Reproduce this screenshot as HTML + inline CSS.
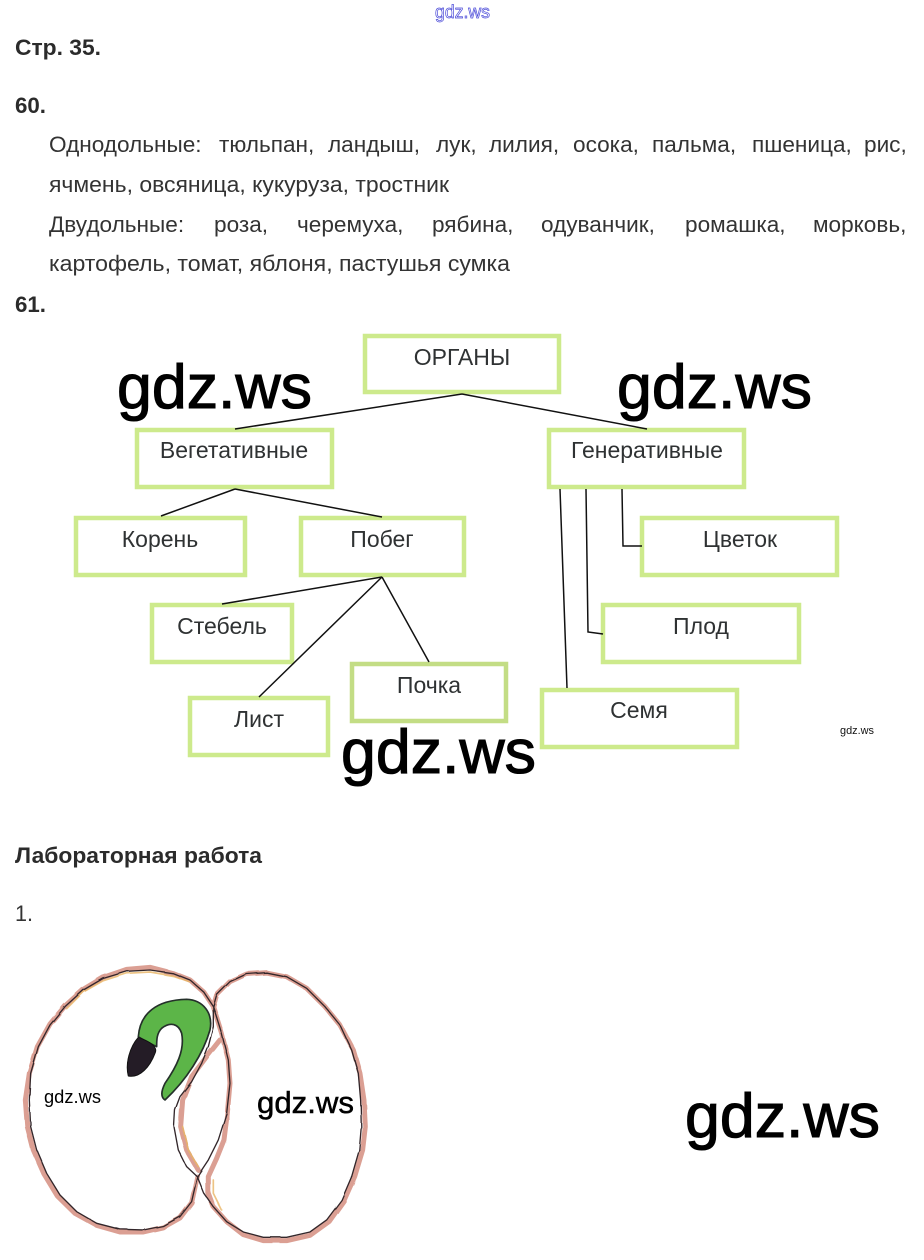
<!DOCTYPE html>
<html lang="ru"><head><meta charset="utf-8"><title>Стр. 35</title>
<style>
html,body{margin:0;padding:0;background:#fff;width:924px;height:1260px;overflow:hidden}
svg{display:block}
text{font-family:"Liberation Sans",sans-serif}
.b{font-weight:bold;font-size:22px;fill:#2b2b2b}
.t{font-size:22.6px;fill:#333}
.n{font-size:23px;fill:#2f3233;text-anchor:middle}
.w{fill:#000;stroke:#000;stroke-width:1.1;font-size:62px}
.box{fill:#fff;stroke:#cdea8c;stroke-width:4.5}
.l{stroke:#111;stroke-width:1.5;fill:none}
</style></head><body>
<svg width="924" height="1260" viewBox="0 0 924 1260" xmlns="http://www.w3.org/2000/svg">
<defs><filter id="r" x="-5%" y="-5%" width="110%" height="110%"><feTurbulence type="fractalNoise" baseFrequency=".02" numOctaves="1" seed="4"/><feDisplacementMap in="SourceGraphic" scale="6"/></filter></defs>
<rect width="924" height="1260" fill="#fff"/>
<text x="435" y="18" textLength="55" lengthAdjust="spacingAndGlyphs" style="font-size:18px;fill:#fff;stroke:#4a4ad8;stroke-width:.7">gdz.ws</text>
<text class="b" x="15" y="55" textLength="86" lengthAdjust="spacingAndGlyphs">Стр. 35.</text>
<text class="b" x="15" y="113" textLength="31" lengthAdjust="spacingAndGlyphs">60.</text>
<g class="t">
<text class="t" x="49" y="152">Однодольные:</text><text class="t" x="219" y="152">тюльпан,</text><text class="t" x="328" y="152">ландыш,</text><text class="t" x="436" y="152">лук,</text><text class="t" x="489" y="152">лилия,</text><text class="t" x="573" y="152">осока,</text><text class="t" x="652" y="152">пальма,</text><text class="t" x="752" y="152">пшеница,</text><text class="t" x="864" y="152">рис,</text>
<text class="t" x="49" y="192" textLength="400" lengthAdjust="spacingAndGlyphs">ячмень, овсяница, кукуруза, тростник</text>
<text class="t" x="49" y="232">Двудольные:</text><text class="t" x="214" y="232">роза,</text><text class="t" x="297" y="232">черемуха,</text><text class="t" x="432" y="232">рябина,</text><text class="t" x="541" y="232">одуванчик,</text><text class="t" x="685" y="232">ромашка,</text><text class="t" x="813" y="232">морковь,</text>
<text class="t" x="49" y="271" textLength="461" lengthAdjust="spacingAndGlyphs">картофель, томат, яблоня, пастушья сумка</text>
</g>
<text class="b" x="15" y="312" textLength="31" lengthAdjust="spacingAndGlyphs">61.</text>

<rect class="box" x="365" y="336" width="194" height="56"/>
<rect class="box" x="137" y="430" width="195" height="57"/>
<rect class="box" x="76" y="518" width="169" height="57"/>
<rect class="box" x="301" y="518" width="163" height="57"/>
<rect class="box" x="152" y="605" width="140" height="57"/>
<rect class="box" x="352" y="664" width="154" height="57" style="stroke:#c3dd85"/>
<rect class="box" x="190" y="698" width="138" height="57"/>
<rect class="box" x="549" y="430" width="195" height="57"/>
<rect class="box" x="642" y="518" width="195" height="57"/>
<rect class="box" x="603" y="605" width="196" height="57"/>
<rect class="box" x="542" y="690" width="195" height="57"/>

<path class="l" d="M462 394L235 429M462 394L647 429M235 489L161 516M235 489L382 517M382 577L222 604M382 577L259 697M382 577L429 662M560 489L567 688M586 489L588 632L603 634M622 489L623 546L642 546"/>

<text class="n" x="462" y="365">ОРГАНЫ</text>
<text class="n" x="234" y="458">Вегетативные</text>
<text class="n" x="160" y="547">Корень</text>
<text class="n" x="382" y="547">Побег</text>
<text class="n" x="222" y="634">Стебель</text>
<text class="n" x="429" y="693">Почка</text>
<text class="n" x="259" y="727">Лист</text>
<text class="n" x="647" y="458">Генеративные</text>
<text class="n" x="740" y="547">Цветок</text>
<text class="n" x="701" y="634">Плод</text>
<text class="n" x="639" y="718">Семя</text>

<text class="w" x="117" y="408" textLength="195" lengthAdjust="spacingAndGlyphs">gdz.ws</text>
<text class="w" x="617" y="408" textLength="195" lengthAdjust="spacingAndGlyphs">gdz.ws</text>
<text class="w" x="341" y="773" textLength="195" lengthAdjust="spacingAndGlyphs">gdz.ws</text>
<text x="840" y="734" textLength="34" lengthAdjust="spacingAndGlyphs" style="font-size:11px;fill:#111">gdz.ws</text>

<text class="b" x="15" y="863" textLength="247" lengthAdjust="spacingAndGlyphs">Лабораторная работа</text>
<text class="t" x="15" y="921" textLength="18" lengthAdjust="spacingAndGlyphs">1.</text>

<g transform="translate(0,950) scale(.3333)" fill="none" stroke-linejoin="round" stroke-linecap="round">
<g filter="url(#r)">
<g stroke="#d58f80" stroke-width="15" opacity=".85">
<polyline points="640,170 610,125 570,90 520,70 450,52 380,58 310,82 250,118 195,168 150,222 112,290 88,370 76,450 82,530 100,600 132,672 172,738 225,790 290,826 360,846 430,846 490,832 540,804 575,758 592,680"/>
<polyline points="640,170 650,135 690,95 740,72 800,68 860,80 920,115 975,170 1020,225 1060,300 1080,370 1092,450 1096,530 1088,600 1064,680 1032,752 988,814 930,856 860,872 790,872 730,854 680,815 640,770 625,730 625,680 650,625 672,570 682,490 690,400 685,330 665,250 640,170"/>
<polyline points="660,270 620,320 575,380 548,450 542,530 560,600 595,660"/>
</g>
<g stroke="#e9b565" stroke-width="5" opacity=".8">
<polyline points="570,96 520,78 450,66 380,70 310,92 250,126 200,176"/>
<polyline points="548,530 565,600 595,650"/>
<polyline points="640,690 640,730 665,780"/>
</g>
<g stroke="#33272a" stroke-width="4">
<polyline points="640,170 610,125 570,90 520,70 450,60 380,64 310,85 250,120 195,170 150,225 115,290 92,370 88,450 92,530 110,600 140,670 180,735 230,785 290,820 360,838 430,840 490,828 540,800 575,755 592,680 560,650 535,600 522,530 525,480 540,440 575,395 605,340 625,290 640,230 640,170"/>
<polyline points="640,170 650,135 690,95 740,72 800,68 860,80 920,115 975,170 1020,225 1055,300 1075,370 1082,450 1084,530 1078,600 1055,680 1025,750 980,810 930,846 860,862 790,862 730,846 680,815 640,770 612,730 592,680 625,630 655,570 680,490 690,400 685,330 665,250 640,170"/>
</g>
</g>
<path d="M415 260C420 190 470 150 560 148C610 150 640 190 630 240C610 310 560 390 495 450C480 440 485 420 495 400C530 350 555 300 545 250C535 220 510 215 485 235C470 250 470 270 470 290C450 280 430 270 415 260Z" fill="#5cb548" stroke="#24302a" stroke-width="5"/>
<path d="M415 262C450 275 475 290 465 310C450 350 420 385 385 378C375 340 390 290 415 262Z" fill="#241c26" stroke="#111" stroke-width="3"/>
</g>
<text x="44" y="1103" textLength="57" lengthAdjust="spacingAndGlyphs" style="font-size:18px;fill:#000">gdz.ws</text>
<text x="257" y="1113" textLength="97" lengthAdjust="spacingAndGlyphs" style="font-size:31px;fill:#000;stroke:#000;stroke-width:.5">gdz.ws</text>
<text class="w" x="685" y="1137" textLength="195" lengthAdjust="spacingAndGlyphs">gdz.ws</text>
</svg>
</body></html>
